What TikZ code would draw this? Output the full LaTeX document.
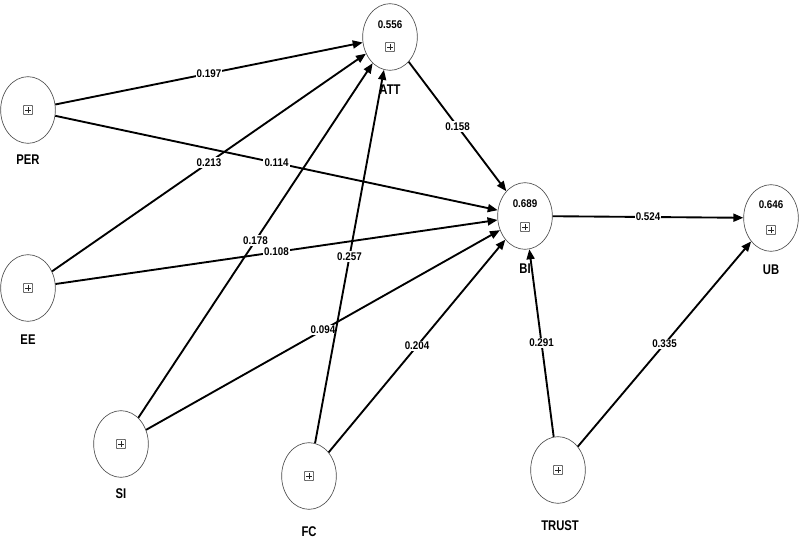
\documentclass[tikz,border=0pt]{standalone}
\usepackage{fontspec}
\setmainfont{Liberation Sans}
\newfontfamily\numfont[FakeStretch=0.88]{Liberation Sans}
\newfontfamily\namefont[FakeStretch=0.8]{Liberation Sans}
\usetikzlibrary{arrows.meta, shapes.geometric}
\definecolor{rim}{HTML}{4A4A4A}
\tikzset{
  latent/.style={ellipse, draw=rim, line width=0.55pt, minimum width=16.4mm,
                 minimum height=20mm, inner sep=0pt},
  plusbox/.style={draw=black!85, rounded corners=0.7pt, line width=0.5pt,
                  minimum size=2.8mm, inner sep=0pt,
                  path picture={\draw[line width=0.5pt]
                    (path picture bounding box.center) ++(-0.9mm,0) -- ++(1.8mm,0)
                    (path picture bounding box.center) ++(0,-0.9mm) -- ++(0,1.8mm);}},
  rsq/.style={font=\numfont\bfseries\fontsize{9.5}{10}\selectfont, inner sep=0pt},
  lvname/.style={font=\namefont\bfseries\fontsize{12}{13}\selectfont, inner sep=0pt},
  coef/.style={-{Triangle[length=3mm, width=2.4mm]}, line width=1.6pt},
  wgt/.style={font=\numfont\bfseries\fontsize{9.5}{10}\selectfont, fill=white,
              inner sep=1pt, midway},
}
\begin{document}
\begin{tikzpicture}[x=0.3mm, y=-0.3mm]
  \useasboundingbox (0,0) rectangle (800,548);
  % exogenous constructs
  \node[latent] (per) at (28,110) {};
  \node[plusbox] (perbox) at (per.center) {};
  \node[lvname] (perlbl) at (28,160) {PER};
  \node[latent] (ee) at (28,288) {};
  \node[plusbox] (eebox) at (ee.center) {};
  \node[lvname] (eelbl) at (28,340) {EE};
  \node[latent] (si) at (121,444) {};
  \node[plusbox] (sibox) at (si.center) {};
  \node[lvname] (silbl) at (121,494) {SI};
  \node[latent] (fc) at (309,476) {};
  \node[plusbox] (fcbox) at (fc.center) {};
  \node[lvname] (fclbl) at (309,532) {FC};
  \node[latent] (trust) at (558,470) {};
  \node[plusbox] (trustbox) at (trust.center) {};
  \node[lvname] (trustlbl) at (560,526) {TRUST};
  % endogenous constructs with R-squared
  \node[latent] (att) at (390,37) {};
  \node[rsq] (attr2) at (390,25) {0.556};
  \node[plusbox] (attbox) at (390,47) {};
  \node[lvname] (attlbl) at (390,90) {ATT};
  \node[latent] (bi) at (525,216) {};
  \node[rsq] (bir2) at (525,204) {0.689};
  \node[plusbox] (bibox) at (525,227) {};
  \node[lvname] (bilbl) at (525,269) {BI};
  \node[latent] (ub) at (771,218) {};
  \node[rsq] (ubr2) at (771,205) {0.646};
  \node[plusbox] (ubbox) at (771,230) {};
  \node[lvname] (ublbl) at (771,270) {UB};
  % path coefficients
  \draw[coef] (per) -- node[wgt] (w1) {0.197} (att);
  \draw[coef] (per) -- node[wgt] (w2) {0.114} (bi);
  \draw[coef] (ee) -- node[wgt] (w3) {0.213} (att);
  \draw[coef] (ee) -- node[wgt] (w4) {0.108} (bi);
  \draw[coef] (si) -- node[wgt] (w5) {0.178} (att);
  \draw[coef] (si) -- node[wgt] (w6) {0.094} (bi);
  \draw[coef] (fc) -- node[wgt] (w7) {0.257} (att);
  \draw[coef] (fc) -- node[wgt] (w8) {0.204} (bi);
  \draw[coef] (att) -- node[wgt] (w9) {0.158} (bi);
  \draw[coef] (bi) -- node[wgt] (w10) {0.524} (ub);
  \draw[coef] (trust) -- node[wgt] (w11) {0.291} (bi);
  \draw[coef] (trust) -- node[wgt] (w12) {0.335} (ub);
\end{tikzpicture}
\end{document}
